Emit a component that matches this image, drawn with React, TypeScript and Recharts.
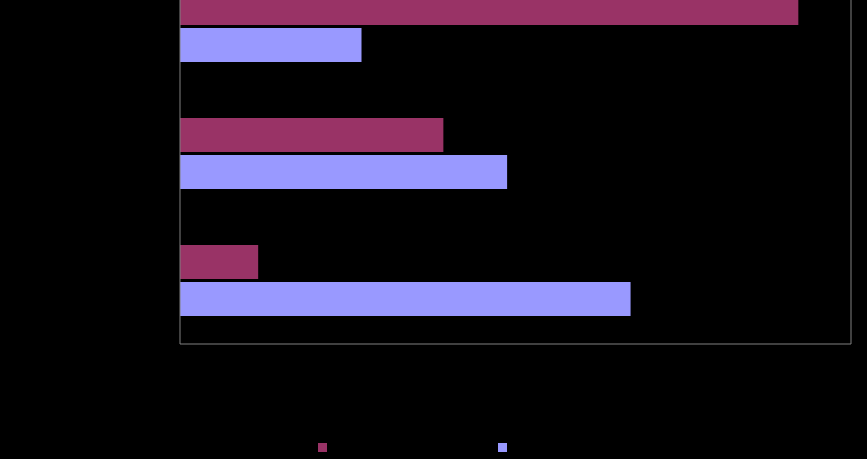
import React from "react";
import { BarChart, Bar, XAxis, YAxis, ReferenceLine } from "recharts";

const categories = ["Category 1", "Category 2", "Category 3"];
const series1Name = "Series 1";
const series2Name = "Series 2";
const series1 = [92.15, 39.25, 11.65];
const series2 = [27.05, 48.75, 67.15];

const data = categories.map((c, i) => ({ name: c, s1: series1[i], s2: series2[i] }));

export default function App() {
  return (
    <div style={{ position: "fixed", left: 0, top: 0, width: 867, height: 459, background: "#000", overflow: "hidden" }}>
      <div style={{ marginTop: -37 }}>
        <BarChart
          width={867}
          height={496}
          layout="vertical"
          data={data}
          margin={{ top: 0, right: 16, bottom: 114, left: 0 }}
          barSize={34}
          barGap={3}
        >
          <XAxis type="number" domain={[0, 100]} height={1} tick={false} tickLine={false} axisLine={{ stroke: "#808080" }} />
          <YAxis
            type="category"
            dataKey="name"
            width={180}
            tickLine={false}
            axisLine={{ stroke: "#808080" }}
            tick={{ fill: "#000", fontSize: 12, fontFamily: "Arial" }}
          />
          <ReferenceLine x={100} stroke="#808080" />
          <Bar dataKey="s1" name={series1Name} fill="#993366" isAnimationActive={false} />
          <Bar dataKey="s2" name={series2Name} fill="#9999FF" isAnimationActive={false} />
        </BarChart>
      </div>
      <div style={{ position: "absolute", left: 318, top: 443, display: "flex", alignItems: "flex-start", fontFamily: "Arial", fontSize: 12, lineHeight: "10px", color: "#000" }}>
        <span style={{ display: "inline-block", width: 9, height: 9, background: "#993366" }} />
        <span style={{ marginLeft: 5, width: 166 }}>{series1Name}</span>
        <span style={{ display: "inline-block", width: 9, height: 9, background: "#9999FF" }} />
        <span style={{ marginLeft: 5 }}>{series2Name}</span>
      </div>
    </div>
  );
}
